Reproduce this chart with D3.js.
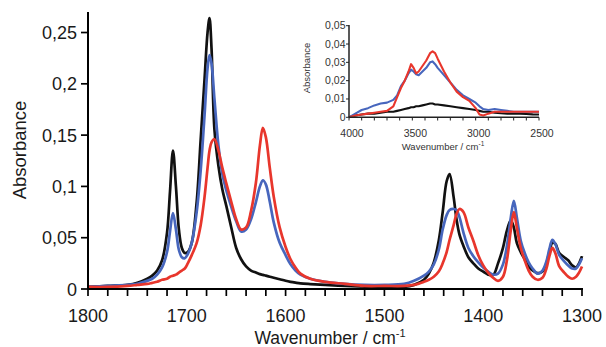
<!DOCTYPE html>
<html><head><meta charset="utf-8">
<script src="https://cdn.jsdelivr.net/npm/d3@7/dist/d3.min.js"></script>
<style>
html,body{margin:0;padding:0;background:#fff;}
svg{display:block;font-family:"Liberation Sans",Arial,sans-serif;}
</style></head>
<body>
<svg id="c" width="606" height="347"></svg>
<script>
// ---------- main spectrum data ----------
const wavenumbers = [1800,1780,1760,1750,1740,1735,1730,1725,1720,1717,1714,1711,1708,1705,1702,1699,1695,1690,1686,1682,1679,1677,1675,1672,1668,1664,1660,1655,1650,1645,1640,1635,1630,1626,1623,1620,1616,1612,1606,1600,1595,1590,1585,1575,1560,1540,1520,1500,1480,1470,1460,1455,1450,1445,1441,1437,1434,1430,1427,1424,1420,1415,1410,1405,1400,1395,1390,1385,1380,1376,1372,1369,1366,1362,1358,1354,1350,1345,1340,1336,1333,1330,1327,1323,1318,1314,1310,1306,1303,1300];
const blackSeries = [0.002,0.003,0.004,0.006,0.010,0.013,0.018,0.028,0.055,0.095,0.135,0.100,0.058,0.040,0.035,0.036,0.045,0.085,0.145,0.205,0.250,0.264,0.235,0.155,0.120,0.097,0.081,0.060,0.040,0.029,0.022,0.018,0.016,0.0145,0.0138,0.013,0.012,0.011,0.0095,0.008,0.007,0.0062,0.0055,0.0048,0.004,0.003,0.0022,0.0017,0.002,0.004,0.009,0.015,0.026,0.047,0.075,0.105,0.112,0.090,0.068,0.053,0.042,0.031,0.025,0.020,0.017,0.014,0.0135,0.025,0.040,0.057,0.067,0.060,0.045,0.036,0.029,0.022,0.018,0.0155,0.017,0.025,0.036,0.045,0.044,0.035,0.031,0.028,0.023,0.021,0.025,0.032];
const blueSeries = [0.002,0.003,0.004,0.005,0.008,0.010,0.014,0.021,0.036,0.056,0.074,0.058,0.038,0.031,0.030,0.034,0.045,0.075,0.115,0.170,0.215,0.228,0.220,0.185,0.140,0.112,0.096,0.080,0.066,0.056,0.058,0.068,0.085,0.100,0.106,0.102,0.085,0.065,0.045,0.033,0.024,0.018,0.014,0.010,0.007,0.005,0.004,0.004,0.005,0.008,0.013,0.017,0.024,0.038,0.058,0.072,0.077,0.078,0.077,0.070,0.055,0.040,0.032,0.026,0.021,0.017,0.014,0.015,0.024,0.042,0.070,0.086,0.070,0.047,0.035,0.026,0.020,0.015,0.018,0.027,0.039,0.048,0.044,0.033,0.027,0.023,0.020,0.020,0.024,0.030];
const redSeries = [0.002,0.002,0.003,0.004,0.005,0.006,0.007,0.009,0.010,0.012,0.013,0.014,0.016,0.018,0.020,0.025,0.033,0.045,0.062,0.090,0.118,0.135,0.143,0.146,0.135,0.118,0.103,0.085,0.068,0.058,0.060,0.076,0.104,0.140,0.157,0.148,0.118,0.090,0.060,0.041,0.029,0.021,0.015,0.010,0.007,0.005,0.003,0.003,0.003,0.004,0.007,0.009,0.012,0.017,0.025,0.036,0.048,0.062,0.073,0.078,0.075,0.060,0.047,0.033,0.023,0.016,0.011,0.008,0.012,0.028,0.058,0.075,0.060,0.040,0.028,0.018,0.012,0.009,0.011,0.020,0.032,0.040,0.035,0.022,0.016,0.012,0.010,0.012,0.016,0.022];
const mainXTicks = [1800,1700,1600,1500,1400,1300];
const mainYTicks = [0,0.05,0.1,0.15,0.2,0.25];
const mainYLabels = ["0","0,05","0,1","0,15","0,2","0,25"];

// ---------- inset data ----------
const insetWavenumbers = [4000,3950,3900,3850,3800,3750,3700,3650,3620,3590,3560,3530,3510,3490,3470,3450,3420,3390,3360,3340,3320,3300,3250,3200,3150,3100,3050,3000,2970,2940,2900,2850,2800,2750,2700,2650,2600,2550,2500];
const insetRed = [0.000,0.001,0.0015,0.002,0.0025,0.003,0.0035,0.006,0.011,0.016,0.020,0.025,0.029,0.027,0.024,0.025,0.028,0.031,0.035,0.036,0.035,0.032,0.025,0.019,0.014,0.011,0.009,0.005,0.0015,0.001,0.002,0.003,0.003,0.003,0.003,0.003,0.003,0.003,0.003];
const insetBlue = [0.000,0.002,0.004,0.005,0.0065,0.0075,0.008,0.0095,0.012,0.017,0.020,0.024,0.026,0.025,0.0235,0.023,0.025,0.027,0.030,0.0305,0.029,0.027,0.023,0.019,0.015,0.012,0.010,0.008,0.006,0.0045,0.004,0.0045,0.004,0.0035,0.003,0.003,0.003,0.003,0.003];
const insetBlack = [0.000,0.001,0.0015,0.002,0.002,0.0025,0.003,0.003,0.0035,0.004,0.0045,0.005,0.0055,0.0055,0.006,0.006,0.0065,0.007,0.0075,0.0075,0.007,0.007,0.0065,0.006,0.0055,0.005,0.0045,0.004,0.0035,0.003,0.003,0.0025,0.0022,0.002,0.002,0.002,0.0018,0.0016,0.0015];
const insetXTicks = [4000,3500,3000,2500];
const insetYTicks = [0,0.01,0.02,0.03,0.04,0.05];
const insetYLabels = ["0","0,01","0,02","0,03","0,04","0,05"];

const COLORS = {black:"#111111", blue:"#4766bd", red:"#e8362c"};

const svg = d3.select("#c");

// ---------- main chart ----------
const x = d3.scaleLinear().domain([1800,1300]).range([88,582]);
const y = d3.scaleLinear().domain([0,0.27]).range([289,12]);

const line = (vals) => d3.line()
  .x((d,i)=>x(wavenumbers[i]))
  .y(d=>y(d))
  .curve(d3.curveCatmullRom.alpha(0.5))(vals);

const series = [[blackSeries,COLORS.black],[blueSeries,COLORS.blue],[redSeries,COLORS.red]];
series.forEach(([vals,col])=>{
  svg.append("path").attr("d",line(vals)).attr("fill","none")
    .attr("stroke",col).attr("stroke-width",2.7).attr("stroke-linejoin","round");
});

// x axis
const xAxis = svg.append("g").attr("transform","translate(0,289)");
xAxis.append("line").attr("x1",87).attr("x2",583).attr("stroke","#000").attr("stroke-width",2);
xAxis.selectAll("line.t").data(d3.range(1800,1299,-20)).join("line").attr("class","t")
  .attr("x1",d=>x(d)).attr("x2",d=>x(d)).attr("y1",0).attr("y2",7)
  .attr("stroke","#000").attr("stroke-width",1.7);
xAxis.selectAll("text").data(mainXTicks).join("text")
  .attr("x",d=>x(d)).attr("y",33).attr("text-anchor","middle")
  .attr("font-size",18).attr("fill","#1a1a1a").text(d=>d);

// y axis
const yAxis = svg.append("g").attr("transform","translate(88,0)");
yAxis.append("line").attr("y1",12).attr("y2",290).attr("stroke","#000").attr("stroke-width",2);
yAxis.selectAll("line.t").data(mainYTicks).join("line").attr("class","t")
  .attr("x1",-7).attr("x2",0).attr("y1",d=>y(d)).attr("y2",d=>y(d))
  .attr("stroke","#000").attr("stroke-width",1.7);
yAxis.selectAll("text").data(mainYTicks).join("text")
  .attr("x",-11).attr("y",d=>y(d)+6.5).attr("text-anchor","end")
  .attr("font-size",18).attr("fill","#1a1a1a").text((d,i)=>mainYLabels[i]);

// axis titles
svg.append("text").attr("transform","translate(26,150) rotate(-90)")
  .attr("text-anchor","middle").attr("font-size",18.5).attr("fill","#1a1a1a").text("Absorbance");
const xt = svg.append("text").attr("x",330).attr("y",344).attr("text-anchor","middle")
  .attr("font-size",17.5).attr("fill","#1a1a1a");
xt.append("tspan").text("Wavenumber / cm");
xt.append("tspan").attr("dy",-7).attr("font-size",11).text("-1");

// ---------- inset ----------
const ix = d3.scaleLinear().domain([4000,2500]).range([349,539]);
const iy = d3.scaleLinear().domain([0,0.05]).range([117.3,25.7]);
const iline = (vals) => d3.line()
  .x((d,i)=>ix(insetWavenumbers[i])).y(d=>iy(d))(vals);
[[insetBlack,COLORS.black],[insetBlue,COLORS.blue],[insetRed,COLORS.red]].forEach(([vals,col])=>{
  svg.append("path").attr("d",iline(vals)).attr("fill","none")
    .attr("stroke",col).attr("stroke-width",2.1).attr("stroke-linejoin","round");
});
const ia = svg.append("g").attr("font-size",10.5).attr("fill","#333");
ia.append("line").attr("x1",349).attr("x2",539).attr("y1",117.3).attr("y2",117.3).attr("stroke","#222").attr("stroke-width",1.5);
ia.append("line").attr("x1",349).attr("x2",349).attr("y1",25).attr("y2",117.3).attr("stroke","#222").attr("stroke-width",1.5);
ia.selectAll("line.xt").data(d3.range(4000,2499,-100)).join("line").attr("class","xt")
  .attr("x1",d=>ix(d)).attr("x2",d=>ix(d)).attr("y1",117.3).attr("y2",120.5).attr("stroke","#222").attr("stroke-width",1);
ia.selectAll("line.yt").data(insetYTicks).join("line").attr("class","yt")
  .attr("x1",346).attr("x2",349).attr("y1",d=>iy(d)).attr("y2",d=>iy(d)).attr("stroke","#222").attr("stroke-width",1);
ia.selectAll("text.xl").data(insetXTicks).join("text").attr("class","xl")
  .attr("x",d=>ix(d)+3).attr("y",137).attr("text-anchor","middle").text(d=>d);
ia.selectAll("text.yl").data(insetYTicks).join("text").attr("class","yl")
  .attr("x",345.5).attr("y",d=>iy(d)+3.5).attr("text-anchor","end").text((d,i)=>insetYLabels[i]);
ia.append("text").attr("transform","translate(310,68) rotate(-90)").attr("text-anchor","middle")
  .attr("font-size",9.5).text("Absorbance");
const ixt = ia.append("text").attr("x",443).attr("y",150).attr("text-anchor","middle").attr("font-size",9.5);
ixt.append("tspan").text("Wavenumber / cm");
ixt.append("tspan").attr("dy",-4).attr("font-size",6.5).text("-1");
</script>
</body></html>
